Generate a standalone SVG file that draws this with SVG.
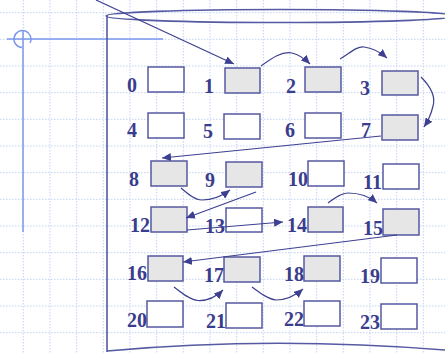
<svg xmlns="http://www.w3.org/2000/svg" width="445" height="354" viewBox="0 0 445 354">
<defs>
<style>
.grid{stroke:#c3d1f3;stroke-width:1;stroke-dasharray:1.5 1.5;fill:none}
.box{stroke:#5558a0;stroke-width:1.5;fill:#ffffff}
.box.on{fill:#e6e6e6}
.lbl{font-family:"Liberation Serif","Times New Roman",serif;font-weight:bold;font-size:20px;fill:#3a3c8c}
.cyl{stroke:#555aa2;stroke-width:1.6;fill:none}
.cross{stroke:#7b98ec;stroke-width:1.5;fill:none}
.conn{stroke:#3d4090;stroke-width:1.2;fill:none;marker-end:url(#ah)}
</style>
<marker id="ah" markerUnits="userSpaceOnUse" markerWidth="9" markerHeight="8" refX="9" refY="4" orient="auto">
<path d="M0,0 L9,4 L0,8 z" fill="#3d4090"/>
</marker>
</defs>
<rect width="445" height="354" fill="#ffffff"/>
<path class="grid" d="M23.3,0V354M50,0V354M76.7,0V354M103.3,0V354M130,0V354M156.7,0V354M183.3,0V354M210,0V354M236.7,0V354M263.3,0V354M290,0V354M316.7,0V354M343.3,0V354M370,0V354M396.7,0V354M423.3,0V354M0,12.7H445M0,39.3H445M0,66H445M0,92.7H445M0,119.3H445M0,146H445M0,172.7H445M0,199.3H445M0,226H445M0,252.7H445M0,279.3H445M0,306H445M0,332.7H445"/>
<g id="crosshair">
<path class="cross" d="M7,39H163M23,30V232"/>
<path class="cross" d="M22,47.5A8.5,8.5 0 1 1 30,43"/>
</g>
<g id="cylinder">
<ellipse class="cyl" cx="280" cy="16" rx="174" ry="6.5"/>
<path class="cyl" d="M107,15V352"/>
<path class="cyl" d="M107,351Q270,336 445,350"/>
</g>
<g id="n0"><rect class="box" x="148" y="67" width="36" height="25"/><text class="lbl" x="127" y="92">0</text></g>
<g id="n1"><rect class="box on" x="225" y="68" width="35" height="25"/><text class="lbl" x="204" y="93">1</text></g>
<g id="n2"><rect class="box on" x="305" y="67" width="36" height="25"/><text class="lbl" x="286" y="93">2</text></g>
<g id="n3"><rect class="box on" x="382" y="71" width="36" height="24"/><text class="lbl" x="360" y="95">3</text></g>
<g id="n4"><rect class="box" x="148" y="113" width="36" height="25"/><text class="lbl" x="127" y="137">4</text></g>
<g id="n5"><rect class="box" x="224" y="114" width="36" height="25"/><text class="lbl" x="203" y="138">5</text></g>
<g id="n6"><rect class="box" x="305" y="113" width="36" height="25"/><text class="lbl" x="285" y="137">6</text></g>
<g id="n7"><rect class="box on" x="382" y="115" width="36" height="25"/><text class="lbl" x="361" y="137">7</text></g>
<g id="n8"><rect class="box on" x="151" y="161" width="36" height="25"/><text class="lbl" x="129" y="186">8</text></g>
<g id="n9"><rect class="box on" x="226" y="162" width="36" height="25"/><text class="lbl" x="205" y="187">9</text></g>
<g id="n10"><rect class="box" x="308" y="161" width="36" height="25"/><text class="lbl" x="288" y="186">10</text></g>
<g id="n11"><rect class="box" x="383" y="164" width="36" height="25"/><text class="lbl" x="363" y="189">11</text></g>
<g id="n12"><rect class="box on" x="151" y="207" width="36" height="25"/><text class="lbl" x="130" y="232">12</text></g>
<g id="n13"><rect class="box" x="226" y="208" width="36" height="24"/><text class="lbl" x="205" y="233">13</text></g>
<g id="n14"><rect class="box on" x="308" y="207" width="35" height="25"/><text class="lbl" x="287" y="232">14</text></g>
<g id="n15"><rect class="box on" x="383" y="209" width="36" height="26"/><text class="lbl" x="363" y="235">15</text></g>
<g id="n16"><rect class="box on" x="148" y="256" width="35" height="25"/><text class="lbl" x="127" y="280">16</text></g>
<g id="n17"><rect class="box on" x="224" y="257" width="36" height="25"/><text class="lbl" x="204" y="282">17</text></g>
<g id="n18"><rect class="box on" x="304" y="256" width="36" height="25"/><text class="lbl" x="284" y="281">18</text></g>
<g id="n19"><rect class="box" x="381" y="258" width="36" height="25"/><text class="lbl" x="360" y="283">19</text></g>
<g id="n20"><rect class="box" x="147" y="301" width="36" height="26"/><text class="lbl" x="127" y="327">20</text></g>
<g id="n21"><rect class="box" x="226" y="303" width="36" height="25"/><text class="lbl" x="206" y="328">21</text></g>
<g id="n22"><rect class="box" x="304" y="301" width="36" height="25"/><text class="lbl" x="284" y="326">22</text></g>
<g id="n23"><rect class="box" x="381" y="304" width="36" height="25"/><text class="lbl" x="360" y="329">23</text></g>
<g id="connectors">
<path class="conn" d="M96,0L234,64"/>
<path class="conn" d="M261,66C272,58 282,51 292,53C300,55 305,59 310,64"/>
<path class="conn" d="M340,59C350,53 357,46 364,47C372,48 380,52 387,58"/>
<path class="conn" d="M421,77C430,86 436,96 433,106C431,115 428,121 424,127"/>
<path class="conn" d="M381,136L162,158"/>
<path class="conn" d="M181,188C188,194 195,200 202,200C214,200 222,196 230,190"/>
<path class="conn" d="M256,192L186,218"/>
<path class="conn" d="M187,230L283,222"/>
<path class="conn" d="M328,203C335,198 341,193 348,193C360,193 370,197 377,203"/>
<path class="conn" d="M397,235L183,262"/>
<path class="conn" d="M174,287C182,293 190,300 198,300.5C210,301 217,296 223,290"/>
<path class="conn" d="M252,287C260,293 268,299 276,300C288,300 296,295 303,289"/>
</g>
</svg>
